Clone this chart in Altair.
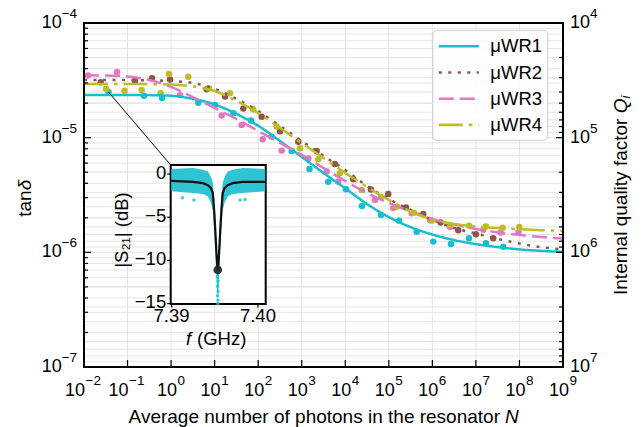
import altair as alt
import pandas as pd

# ---------------- data ----------------
SERIES = ["μWR1", "μWR2", "μWR3", "μWR4"]
COLORS = ["#17becf", "#8c564b", "#e377c2", "#bcbd22"]
DASHES = [[1, 0], [3, 6.5], [15, 6], [24, 6, 3.5, 6]]

# fitted curves, sampled every half decade of N
FIT_N = [1e-2, 3.16e-2, 1e-1, 3.16e-1, 1e0, 3.16e0, 1e1, 3.16e1, 1e2, 3.16e2, 1e3, 3.16e3,
         1e4, 3.16e4, 1e5, 3.16e5, 1e6, 3.16e6, 1e7, 3.16e7, 1e8, 3.16e8, 1e9]
FIT_WR1 = [2.36e-5, 2.36e-5, 2.36e-5, 2.35e-5, 2.32e-5, 2.18e-5, 1.95e-5, 1.61e-5, 1.27e-5,
           9.36e-6, 6.79e-6, 4.92e-6, 3.61e-6, 2.64e-6, 2.03e-6, 1.66e-6, 1.43e-6, 1.28e-6,
           1.18e-6, 1.11e-6, 1.06e-6, 1.03e-6, 1.01e-6]
FIT_WR2 = [3.18e-5, 3.18e-5, 3.18e-5, 3.165e-5, 3.12e-5, 3.00e-5, 2.66e-5, 2.18e-5, 1.71e-5,
           1.265e-5, 9.36e-6, 6.93e-6, 5.23e-6, 3.79e-6, 2.92e-6, 2.34e-6, 1.92e-6, 1.63e-6,
           1.46e-6, 1.31e-6, 1.195e-6, 1.11e-6, 1.06e-6]
FIT_WR3 = [3.50e-5, 3.485e-5, 3.42e-5, 3.18e-5, 2.77e-5, 2.26e-5, 1.815e-5, 1.455e-5, 1.144e-5,
           8.99e-6, 7.07e-6, 5.44e-6, 4.19e-6, 3.29e-6, 2.70e-6, 2.27e-6, 1.955e-6, 1.75e-6,
           1.60e-6, 1.49e-6, 1.42e-6, 1.36e-6, 1.32e-6]
FIT_WR4 = [2.94e-5, 2.94e-5, 2.94e-5, 2.926e-5, 2.91e-5, 2.795e-5, 2.55e-5, 2.09e-5, 1.64e-5,
           1.215e-5, 8.99e-6, 6.65e-6, 4.92e-6, 3.72e-6, 2.86e-6, 2.27e-6, 1.935e-6, 1.77e-6,
           1.68e-6, 1.63e-6, 1.59e-6, 1.56e-6, 1.54e-6]

# measured points
PTS_WR1_N = [0.0365, 0.239, 0.618, 4.22, 10.2, 27.1, 68.4, 204, 587, 1507, 4074, 10380, 24150,
             66070, 1.71e5, 4.37e5, 1.05e6, 2.67e6, 6.92e6, 1.70e7, 4.25e7]
PTS_WR1_T = [2.50e-5, 2.32e-5, 2.22e-5, 2.02e-5, 1.93e-5, 1.63e-5, 1.41e-5, 1.02e-5, 7.66e-6,
             5.33e-6, 4.13e-6, 3.55e-6, 2.54e-6, 2.12e-6, 1.89e-6, 1.51e-6, 1.24e-6, 1.18e-6,
             1.33e-6, 1.20e-6, 1.12e-6]
PTS_WR2_N = [0.0242, 0.148, 0.364, 0.944, 6.56, 17.3, 45.5, 120, 317, 834, 2203, 5794, 15280,
             38900, 97000, 2.48e5, 6.18e5, 1.55e6, 3.94e6, 1.0e7, 2.50e7]
PTS_WR2_T = [3.04e-5, 3.12e-5, 3.30e-5, 3.21e-5, 2.64e-5, 2.28e-5, 1.80e-5, 1.52e-5, 1.14e-5,
             9.23e-6, 7.66e-6, 5.90e-6, 4.34e-6, 3.53e-6, 3.23e-6, 2.46e-6, 2.16e-6, 1.82e-6,
             1.56e-6, 1.44e-6, 1.33e-6]
PTS_WR3_N = [0.0124, 0.0573, 1.60, 14.5, 41.8, 127, 347, 1413, 3741, 6902, 48100, 1.265e5,
             3.35e5, 8.81e5, 2.54e6, 1.48e7, 3.70e7, 9.48e7]
PTS_WR3_T = [3.48e-5, 3.74e-5, 2.35e-5, 1.56e-5, 1.29e-5, 9.69e-6, 7.71e-6, 6.59e-6, 5.06e-6,
             4.13e-6, 2.86e-6, 2.43e-6, 2.19e-6, 1.91e-6, 1.66e-6, 1.57e-6, 1.49e-6, 1.49e-6]
PTS_WR4_N = [0.0320, 0.0851, 0.211, 0.577, 0.895, 2.48, 7.41, 22.5, 77.1, 266, 912, 2399, 7551,
             23820, 66070, 1.514e5, 3.78e5, 9.64e5, 2.54e6, 6.92e6, 1.70e7, 4.11e7, 9.89e7]
PTS_WR4_T = [2.67e-5, 2.57e-5, 2.61e-5, 2.44e-5, 3.59e-5, 3.40e-5, 2.70e-5, 2.44e-5, 1.77e-5,
             1.25e-5, 8.09e-6, 6.49e-6, 4.90e-6, 3.50e-6, 3.04e-6, 2.50e-6, 2.21e-6, 1.89e-6,
             1.73e-6, 1.71e-6, 1.68e-6, 1.64e-6, 1.66e-6]

# inset: |S21| of the resonance (GHz, dB)
INSET_F = [7.38996, 7.39248, 7.39363, 7.39420, 7.39455, 7.39478, 7.39495, 7.39506, 7.39518,
           7.39527, 7.39535, 7.39543, 7.39552, 7.39564, 7.39575, 7.39592, 7.39615, 7.39650,
           7.39707, 7.39822, 7.40085]
INSET_FIT = [-0.8, -0.9, -1.05, -1.3, -1.6, -2.2, -4.5, -6.5, -8.8, -10.4, -11.1, -10.4, -8.8,
             -6.5, -4.5, -2.2, -1.6, -1.3, -1.05, -0.9, -0.9]
INSET_HI = [0.6, 0.7, 0.5, 0.3, -0.3, -1.0, -2.8, -4.8, -7.2, -9.3, -10.3, -9.3, -7.2, -4.8,
            -2.8, -1.0, -0.3, 0.3, 0.5, 0.7, 0.6]
INSET_LO = [-2.0, -2.2, -2.3, -2.6, -3.3, -4.2, -6.8, -9.0, -11.5, -13.5, -15.0, -13.5, -11.5,
            -9.0, -6.8, -4.2, -3.3, -2.6, -2.3, -2.2, -2.0]
SCAT_F = [7.39126, 7.39259, 7.39794, 7.39851, 7.39530, 7.39538, 7.39533, 7.39540, 7.39532,
          7.39537, 7.39535]
SCAT_DB = [-2.75, -3.0, -3.0, -2.95, -11.9, -12.4, -13.0, -13.6, -14.1, -14.6, -15.0]
MIN_F = [7.39535]
MIN_DB = [-11.1]
INSET_XDOM = [7.3899, 7.4009]
INSET_YDOM = [-15.05, 1.05]
INSET_XTICKS = [7.39, 7.40]
INSET_XLABELS = ["7.39", "7.40"]
INSET_YTICKS = [-15, -10, -5, 0]
INSET_YLABELS = ["\u221215", "\u221210", "\u22125", "0"]

# axis ticks
X_EXP = list(range(-2, 10))
Y_EXP = [-7, -6, -5, -4]
Q_EXP = [7, 6, 5, 4]
Y_MINOR = [m * 10.0 ** k for k in (-7, -6, -5) for m in range(2, 10)]
Q_MINOR = [m * 10.0 ** k for k in (4, 5, 6) for m in range(2, 10)]

# ---------------- layout / style ----------------
W, H = 479, 344
FONT = "Liberation Sans"
FS, FS_EXP, FS_T = 18, 13.5, 19
IX0, IX1 = 86.7, 181.7     # inset pixel range (x)
IY0, IY1 = 142, 281        # inset pixel range (y, top/bottom)
GRID = "#e4e4e4"

xs = alt.Scale(type="log", domain=[1e-2, 1e9], nice=False)
ys = alt.Scale(type="log", domain=[1e-7, 1e-4], nice=False)

fit_df = pd.concat([pd.DataFrame({"N": FIT_N, "tan": v, "series": s})
                    for s, v in zip(SERIES, [FIT_WR1, FIT_WR2, FIT_WR3, FIT_WR4])])
pts_df = pd.concat([pd.DataFrame({"N": n, "tan": t, "col": c}) for c, n, t in zip(
    COLORS, [PTS_WR1_N, PTS_WR2_N, PTS_WR3_N, PTS_WR4_N],
    [PTS_WR1_T, PTS_WR2_T, PTS_WR3_T, PTS_WR4_T])])

one = pd.DataFrame({"a": [0]})
xt_df = pd.DataFrame({"N": [10.0 ** k for k in X_EXP],
                      "e": [str(k).replace("-", "\u2212") for k in X_EXP], "k": X_EXP})
yt_df = pd.DataFrame({"tan": [10.0 ** k for k in Y_EXP],
                      "e": [str(k).replace("-", "\u2212") for k in Y_EXP]})
qt_df = pd.DataFrame({"tan": [10.0 ** -k for k in Q_EXP], "e": [str(k) for k in Q_EXP]})
ymin_df = pd.DataFrame({"tan": Y_MINOR})
qmin_df = pd.DataFrame({"tan": [1.0 / q for q in Q_MINOR]})

X = lambda f="N": alt.X(f"{f}:Q", scale=xs, axis=None)
Y = lambda f="tan": alt.Y(f"{f}:Q", scale=ys, axis=None)

# grid
grid_v = alt.Chart(xt_df).mark_rule(color=GRID, strokeWidth=1).encode(x=X())
grid_h = alt.Chart(pd.concat([yt_df[["tan"]], ymin_df, qmin_df])).mark_rule(
    color=GRID, strokeWidth=1).encode(y=Y())

legend = alt.Legend(title=None, orient="none", legendX=348.3, legendY=6.8,
                    symbolType="M-1,0H3", symbolSize=400, symbolStrokeWidth=2.6,
                    labelFont=FONT, labelFontSize=18.5, labelColor="black", labelOffset=30,
                    padding=5, rowPadding=5.2, strokeColor="#cccccc",
                    fillColor="rgba(255,255,255,0.85)", cornerRadius=4)

points = alt.Chart(pts_df).mark_circle(size=42, opacity=1).encode(
    x=X(), y=Y(), color=alt.Color("col:N", scale=None))
lines = alt.Chart(fit_df).mark_line(strokeWidth=2.5, interpolate="monotone").encode(
    x=X(), y=Y(),
    color=alt.Color("series:N", scale=alt.Scale(domain=SERIES, range=COLORS), legend=legend),
    strokeDash=alt.StrokeDash("series:N", scale=alt.Scale(domain=SERIES, range=DASHES),
                              legend=legend))

conn_df = pd.DataFrame({"N": [PTS_WR1_N[0]], "tan": [PTS_WR1_T[0]]})
connector = alt.Chart(conn_df).mark_rule(color="black", strokeWidth=1).encode(
    x=X(), y=Y(), x2=alt.value(IX0), y2=alt.value(IY0))

# inward ticks
tk = dict(color="black", strokeWidth=1.2)
t_bottom = alt.Chart(xt_df).mark_rule(**tk).encode(x=X(), y=alt.value(H), y2=alt.value(H - 7))
t_left = alt.Chart(yt_df).mark_rule(**tk).encode(y=Y(), x=alt.value(0), x2=alt.value(7))
t_left_m = alt.Chart(ymin_df).mark_rule(**tk).encode(y=Y(), x=alt.value(0), x2=alt.value(4))
t_right = alt.Chart(qt_df).mark_rule(**tk).encode(y=Y(), x=alt.value(W), x2=alt.value(W - 7))
t_right_m = alt.Chart(qmin_df).mark_rule(**tk).encode(y=Y(), x=alt.value(W), x2=alt.value(W - 4))

# tick labels  (10 + superscript exponent)
txt = dict(font=FONT, color="black")
xl_neg = xt_df[xt_df.k < 0]
xl_pos = xt_df[xt_df.k >= 0]
lab_x = alt.layer(
    alt.Chart(xl_neg).mark_text(align="right", baseline="middle", dx=1, fontSize=FS, **txt).encode(
        x=X(), y=alt.value(H + 23.5), text=alt.value("10")),
    alt.Chart(xl_neg).mark_text(align="left", baseline="middle", dx=1.5, fontSize=FS_EXP, **txt).encode(
        x=X(), y=alt.value(H + 14), text="e:N"),
    alt.Chart(xl_pos).mark_text(align="right", baseline="middle", dx=6, fontSize=FS, **txt).encode(
        x=X(), y=alt.value(H + 23.5), text=alt.value("10")),
    alt.Chart(xl_pos).mark_text(align="left", baseline="middle", dx=6.5, fontSize=FS_EXP, **txt).encode(
        x=X(), y=alt.value(H + 14), text="e:N"),
)
lab_y = alt.layer(
    alt.Chart(yt_df).mark_text(align="right", baseline="middle", fontSize=FS, **txt).encode(
        y=Y(), x=alt.value(-22.3), text=alt.value("10")),
    alt.Chart(yt_df).mark_text(align="left", baseline="middle", dy=-9, fontSize=FS_EXP, **txt).encode(
        y=Y(), x=alt.value(-22.3), text="e:N"),
    alt.Chart(qt_df).mark_text(align="left", baseline="middle", fontSize=FS, **txt).encode(
        y=Y(), x=alt.value(W + 7), text=alt.value("10")),
    alt.Chart(qt_df).mark_text(align="left", baseline="middle", dy=-9, fontSize=FS_EXP, **txt).encode(
        y=Y(), x=alt.value(W + 27), text="e:N"),
)

def label(text, x, y, size=FS_T, align="left", baseline="alphabetic", angle=0, style="normal"):
    m = dict(align=align, baseline=baseline, fontSize=size, fontStyle=style, **txt)
    if angle:
        m["angle"] = angle
    return alt.Chart(one).mark_text(**m).encode(x=alt.value(x), y=alt.value(y), text=alt.value(text))

titles = alt.layer(
    label("Average number of photons in the resonator", 416, 399.7, align="right"),
    label("N", 421, 399.7, style="italic"),
    label("tan", -59, 167.3, align="right", baseline="middle", angle=270),
    label("δ", -59, 167.3, align="left", baseline="middle", angle=270, style="italic"),
    label("Internal quality factor", 537, 95.6, align="right", baseline="middle", angle=270),
    label("Q", 537, 90.3, align="left", baseline="middle", angle=270, style="italic"),
    label("i", 541.5, 75.5, size=13, align="left", baseline="middle", angle=270, style="italic"),
    label("|S\u2082\u2081| (dB)", 38, 207, size=18.5, align="center", baseline="middle", angle=270),
    label("f", 102, 322, size=18.5, style="italic"),
    label("(GHz)", 113, 322, size=18.5),
)

frame = alt.Chart(one).mark_rect(fillOpacity=0, stroke="black", strokeWidth=2).encode(
    x=alt.value(0), x2=alt.value(W), y=alt.value(0), y2=alt.value(H))

main = alt.layer(grid_v, grid_h, points, lines, connector, t_bottom, t_left, t_left_m,
                 t_right, t_right_m, lab_x, lab_y, titles, frame)

# ---------------- inset ----------------
ixs = alt.Scale(domain=INSET_XDOM, range=[IX0, IX1], nice=False, zero=False)
iys = alt.Scale(domain=INSET_YDOM, range=[IY1, IY0], nice=False, zero=False)
IXn = lambda f: alt.X(f"{f}:Q", scale=ixs, axis=None)
IYn = lambda f: alt.Y(f"{f}:Q", scale=iys, axis=None)

box_df = pd.DataFrame({"x0": [INSET_XDOM[0]], "x1": [INSET_XDOM[1]],
                       "y0": [INSET_YDOM[0]], "y1": [INSET_YDOM[1]]})
inset_box = alt.Chart(box_df).mark_rect(fill="white", stroke="black", strokeWidth=2).encode(
    x=IXn("x0"), x2="x1", y=IYn("y0"), y2="y1")
band_df = pd.DataFrame({"f": INSET_F, "hi": INSET_HI, "lo": INSET_LO, "fit": INSET_FIT})
band = alt.Chart(band_df).mark_area(color="#17becf", opacity=0.9).encode(
    x=IXn("f"), y=IYn("lo"), y2="hi")
scat = alt.Chart(pd.DataFrame({"f": SCAT_F, "db": SCAT_DB})).mark_circle(
    size=12, color="#17becf", opacity=0.8).encode(x=IXn("f"), y=IYn("db"))
fit_line = alt.Chart(band_df).mark_line(color="#111111", strokeWidth=2.2).encode(
    x=IXn("f"), y=IYn("fit"))
min_dot = alt.Chart(pd.DataFrame({"f": MIN_F, "db": MIN_DB})).mark_circle(
    size=75, color="#222222", opacity=0.9).encode(x=IXn("f"), y=IYn("db"))

ixt_df = pd.DataFrame({"v": INSET_XTICKS, "t": INSET_XLABELS})
iyt_df = pd.DataFrame({"v": INSET_YTICKS, "t": INSET_YLABELS})
i_xt = alt.Chart(ixt_df).mark_rule(**tk).encode(x=IXn("v"), y=alt.value(IY1), y2=alt.value(IY1 + 3.5))
i_yt = alt.Chart(iyt_df).mark_rule(**tk).encode(y=IYn("v"), x=alt.value(IX0), x2=alt.value(IX0 - 3.5))
i_xl = alt.Chart(ixt_df).mark_text(align="center", baseline="middle", fontSize=18.5, **txt).encode(
    x=IXn("v"), y=alt.value(IY1 + 12), text="t:N")
i_yl = alt.Chart(iyt_df).mark_text(align="right", baseline="middle", dy=-1.5, fontSize=18.5,
                                   **txt).encode(
    y=IYn("v"), x=alt.value(IX0 - 4.5), text="t:N")

inset = alt.layer(inset_box, band, scat, fit_line, min_dot, i_xt, i_yt, i_xl, i_yl)

chart = alt.layer(main, inset).resolve_scale(x="independent", y="independent").properties(
    width=W, height=H, padding={"left": 84, "top": 23, "right": 644 - 84 - W, "bottom": 427 - 23 - H},
    autosize=alt.AutoSizeParams(type="none"),
).configure(font=FONT, background="white").configure_view(stroke=None)

chart.save("out.html", embed_options={"renderer": "svg", "actions": False})
